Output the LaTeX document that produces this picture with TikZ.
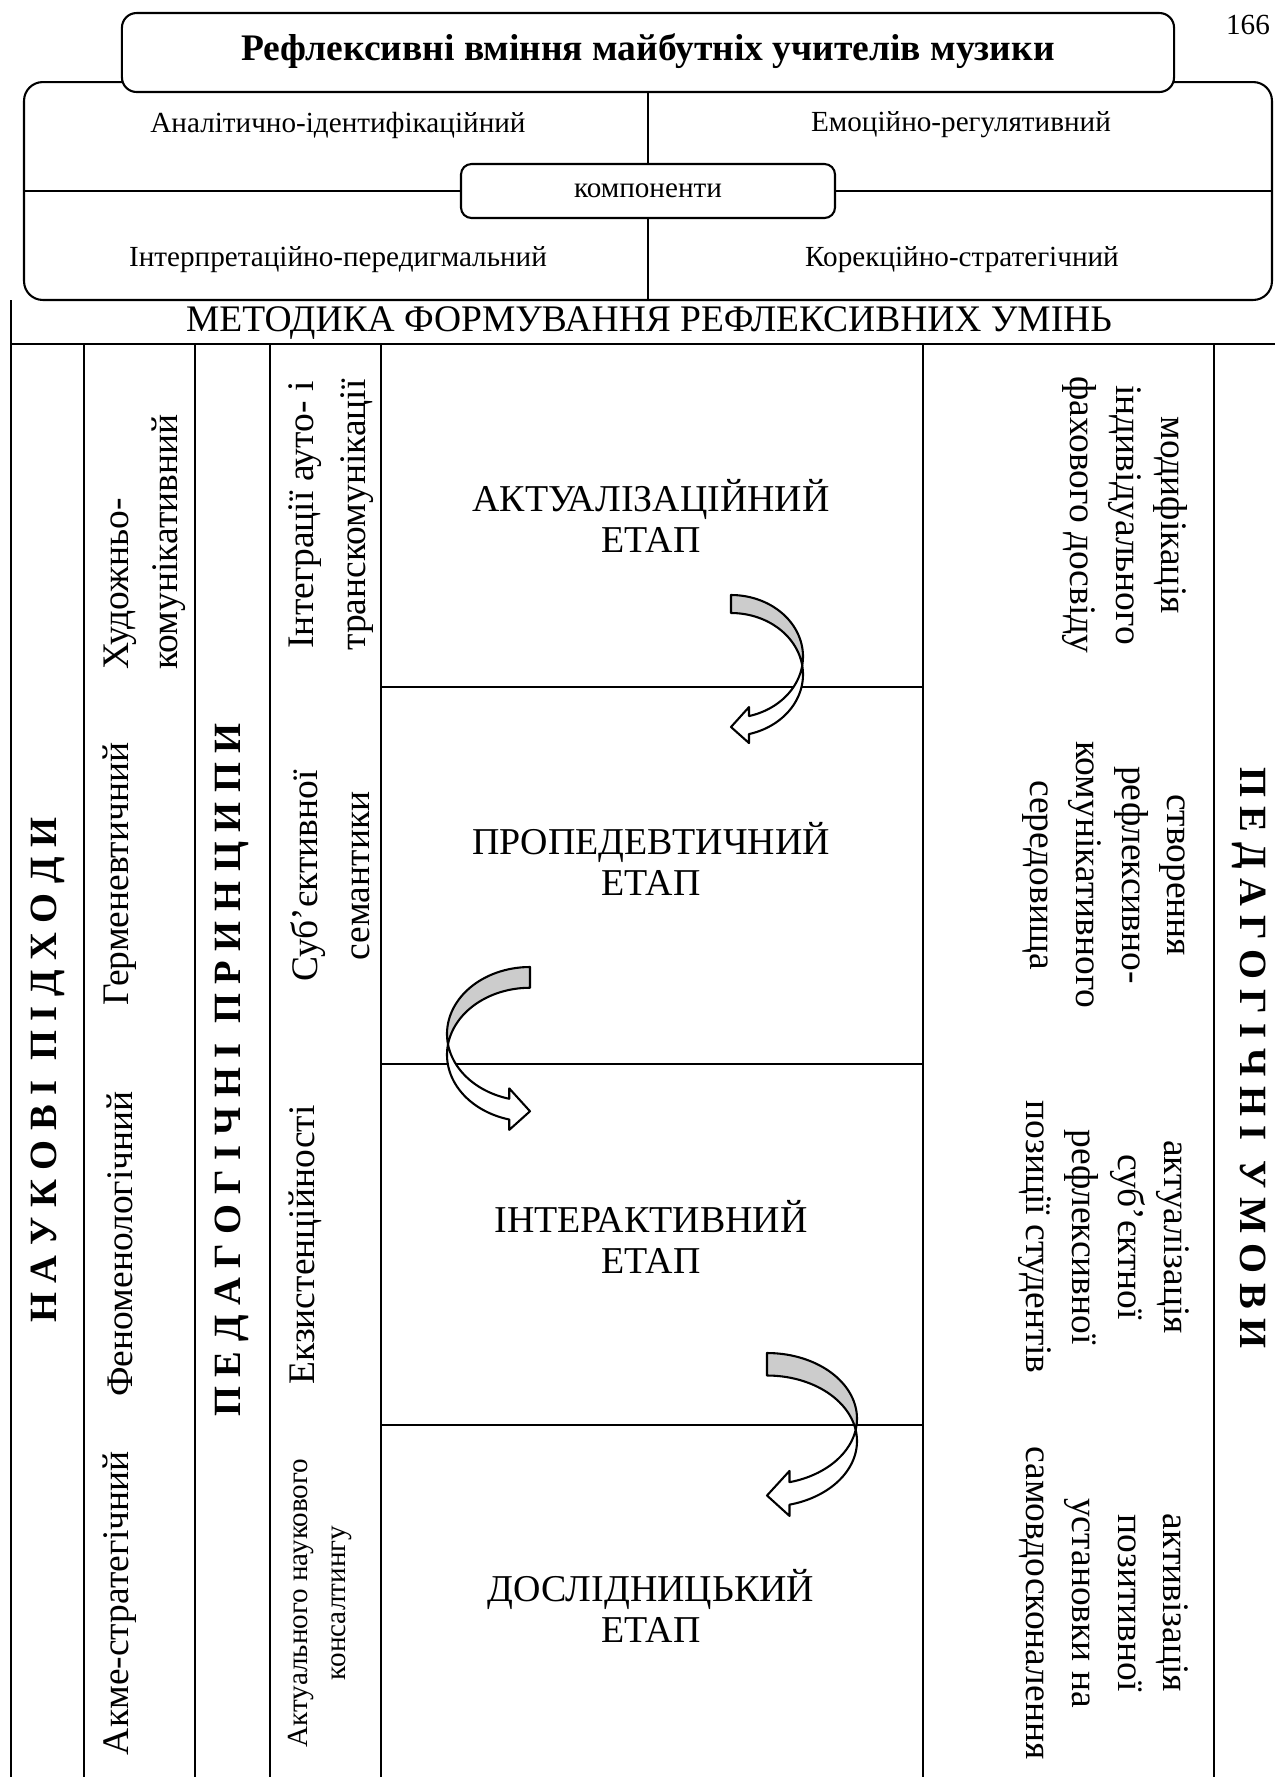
\documentclass[tikz,border=0pt]{standalone}
\usepackage{fontspec}
\setmainfont{Liberation Serif}
\newcommand\curvarrow[5]{% x0, top, w, h, sign (+1 bulge right, -1 bulge left)
  \pgfmathsetmacro\caX{#1}\pgfmathsetmacro\caT{#2}%
  \pgfmathsetmacro\caW{#3}\pgfmathsetmacro\caH{#4}\pgfmathsetmacro\caS{#5}%
  \pgfmathsetmacro\caTh{\caW/4}%
  \pgfmathsetmacro\caAw{\caW/2}%
  \pgfmathsetmacro\caAh{\caW/4}%
  \pgfmathsetmacro\caR{\caH/2-(\caTh+\caAw)/4}%
  \pgfmathsetmacro\caYa{\caT+\caR}%
  \pgfmathsetmacro\caYb{\caT+\caR+\caTh}%
  \pgfmathsetmacro\caC{asin(\caTh/2/\caR)}%
  \pgfmathsetmacro\caP{acos(\caAh/\caW)}%
  \pgfmathsetmacro\caXh{\caX+\caS*\caAh}%
  \pgfmathsetmacro\caYf{\caYa+\caR*sin(\caP)}%
  \pgfmathsetmacro\caYs{\caYf+\caTh}%
  \pgfmathsetmacro\caDh{(\caAw-\caTh)/2}%
  \pgfmathsetmacro\caTip{\caT+\caH-\caAw/2}%
  \filldraw[arrowback] plot[domain=-90:\caC,samples=40] ({\caX+\caS*\caW*cos(\x)},{\caYa+\caR*sin(\x)})
    -- plot[domain=-\caC:-90,samples=40] ({\caX+\caS*\caW*cos(\x)},{\caYb+\caR*sin(\x)}) -- cycle;
  \filldraw[arrowfront] plot[domain=-\caC:\caP,samples=40] ({\caX+\caS*\caW*cos(\x)},{\caYb+\caR*sin(\x)})
    -- (\caXh,\caYs+\caDh) -- (\caX,\caTip) -- (\caXh,\caYf-\caDh) -- (\caXh,\caYf)
    -- plot[domain=\caP:\caC,samples=40] ({\caX+\caS*\caW*cos(\x)},{\caYa+\caR*sin(\x)}) -- cycle;
}
\begin{document}
\begin{tikzpicture}[x=0.48pt,y=-0.48pt,
  tbl/.style={line width=1pt},
  rbox/.style={draw, line width=1pt, rounded corners=7pt, fill=white, inner sep=0pt},
  comptext/.style={font=\fontsize{14}{17}\selectfont, inner sep=0pt},
  titletext/.style={font=\bfseries\fontsize{18}{22}\selectfont, inner sep=0pt},
  headtext/.style={font=\fontsize{18}{22}\selectfont, inner sep=0pt},
  stage/.style={font=\fontsize{18.2}{19.5}\selectfont, align=center, inner sep=0pt},
  spaced/.style={font=\bfseries\fontsize{18.5}{22}\selectfont, inner sep=0pt},
  appr/.style={font=\fontsize{18}{23.5}\selectfont, inner sep=0pt, rotate=90},
  princ/.style={font=\fontsize{18}{25}\selectfont, inner sep=0pt, align=center, rotate=90},
  cond/.style={font=\fontsize{18}{22}\selectfont, inner sep=0pt, align=center, rotate=-90},
  arrowback/.style={fill=black!20, draw=black, line width=1pt, line join=round},
  arrowfront/.style={fill=white, draw=black, line width=1pt, line join=round}
]
\useasboundingbox (0,0) rectangle (1275,1777);
% page number
\node[comptext] (pagenum) at (1248,25) {166};
% components block
\node[rbox, rounded corners=9pt, minimum width=599pt, minimum height=104.6pt] (compbox) at (648,191) {};
\node[rbox, minimum width=505pt, minimum height=37.9pt] (title) at (648,52.5) {};
\node[titletext] (titletxt) at (648,51) {Рефлексивні вміння майбутніх учителів музики};
\node[rbox, rounded corners=5pt, minimum width=179.5pt, minimum height=25.9pt] (komp) at (648,191) {};
\node[comptext] (komptxt) at (648,191) {компоненти};
\draw[tbl] (title.south) -- (komp.north);
\draw[tbl] (komp.south) -- (compbox.south);
\draw[tbl] (compbox.west) -- (komp.west);
\draw[tbl] (komp.east) -- (compbox.east);
\node[comptext] (c1) at (338,125) {Аналітично-ідентифікаційний};
\node[comptext] (c2) at (961,125) {Емоційно-регулятивний};
\node[comptext] (c3) at (338,260) {Інтерпретаційно-передигмальний};
\node[comptext] (c4) at (962,260) {Корекційно-стратегічний};
% method table
\node[headtext] (method) at (649,323) {МЕТОДИКА ФОРМУВАННЯ РЕФЛЕКСИВНИХ УМІНЬ};
\draw[tbl] (11,300) -- (11,1777);
\draw[tbl] (11,344) -- (1275,344);
\foreach \xx in {84,195,270,381,923,1214} \draw[tbl] (\xx,344) -- (\xx,1777);
\foreach \yy in {687,1064,1425} \draw[tbl] (381,\yy) -- (923,\yy);
% column 1 and 3 and 7 headings
\node[spaced, rotate=90] (appr) at (48,1070) {Н А У К О В І \ П І Д Х О Д И};
\node[spaced, rotate=90] (princ) at (232,1070) {П Е Д А Г О Г І Ч Н І \ П Р И Н Ц И П И};
\node[spaced, rotate=-90] (condh) at (1249,1058) {П Е Д А Г О Г І Ч Н І \ У М О В И};
% approaches
\node[appr, anchor=west, align=left] (a1) at (145,670) {Художньо-\\комунікативний};
\node[appr] (a2) at (120,874) {Герменевтичний};
\node[appr] (a3) at (120,1244) {Феноменологічний};
\node[appr] (a4) at (120,1603) {Акме-стратегічний};
% principles
\node[princ] (p1) at (331,515) {Інтеграції ауто- і\\транскомунікації};
\node[princ] (p2) at (330,876) {Суб’єктивної\\семантики};
\node[princ] (p3) at (305,1245) {Екзистенційності};
\node[princ, font=\fontsize{14}{18.7}\selectfont] (p4) at (320,1603) {Актуального наукового\\консалтингу};
% stages
\node[stage] (s1) at (651,516) {АКТУАЛІЗАЦІЙНИЙ\\ЕТАП};
\node[stage] (s2) at (651,859) {ПРОПЕДЕВТИЧНИЙ\\ЕТАП};
\node[stage] (s3) at (651,1237) {ІНТЕРАКТИВНИЙ\\ЕТАП};
\node[stage] (s4) at (651,1606) {ДОСЛІДНИЦЬКИЙ\\ЕТАП};
% conditions
\node[cond] (k1) at (1125,515) {модифікація\\індивідуального\\фахового досвіду};
\node[cond] (k2) at (1104,875) {створення\\рефлексивно-\\комунікативного\\середовища};
\node[cond] (k3) at (1104,1237) {актуалізація\\суб’єктної\\рефлексивної\\позиції студентів};
\node[cond] (k4) at (1104,1603) {активізація\\позитивної\\установки на\\самовдосконалення};
% curved arrows
\curvarrow{731}{595}{72}{150}{1}
\curvarrow{530}{967}{83}{165}{-1}
\curvarrow{767}{1353}{90}{165}{1}
\end{tikzpicture}
\end{document}
